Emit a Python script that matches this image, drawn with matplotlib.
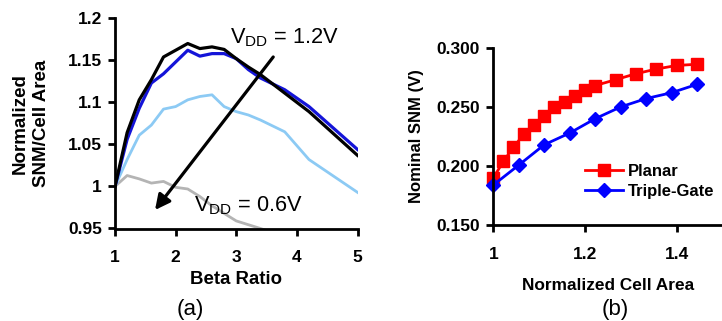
import matplotlib
matplotlib.use("Agg")
import matplotlib.pyplot as plt
from matplotlib.ticker import FixedLocator, FixedFormatter

plt.rcParams['font.family'] = ['Liberation Sans', 'DejaVu Sans']

# (a) normalized SNM per cell area vs. beta ratio, for several supply voltages
beta = [1.0, 1.2, 1.4, 1.6, 1.8, 2.0, 2.2, 2.4, 2.6, 2.8, 3.0, 3.2, 3.4, 3.8, 4.2, 5.0]
snm_12 = [1.000, 1.064, 1.103, 1.127, 1.154, 1.162, 1.170, 1.164, 1.166, 1.163,
          1.152, 1.142, 1.133, 1.111, 1.089, 1.037]
snm_10 = [1.000, 1.056, 1.093, 1.123, 1.134, 1.148, 1.162, 1.155, 1.158, 1.158,
          1.152, 1.139, 1.129, 1.115, 1.095, 1.044]
snm_08 = [1.000, 1.032, 1.061, 1.073, 1.092, 1.095, 1.103, 1.107, 1.109, 1.095,
          1.089, 1.085, 1.079, 1.065, 1.032, 0.993]
beta_06 = [1.0, 1.2, 1.4, 1.6, 1.8, 2.0, 2.2, 2.4, 2.6, 2.8, 3.0, 3.4, 3.8, 4.2]
snm_06 = [1.000, 1.013, 1.009, 1.004, 1.006, 0.999, 0.997, 0.988, 0.977, 0.968,
          0.959, 0.950, 0.940, 0.930]

a_xticks = [1, 2, 3, 4, 5]
a_yticks = [0.95, 1.0, 1.05, 1.1, 1.15, 1.2]
a_ylabels = ["0.95", "1", "1.05", "1.1", "1.15", "1.2"]

# (b) nominal SNM vs. normalized cell area
area_planar = [1.0, 1.022, 1.044, 1.067, 1.089, 1.111, 1.133, 1.156, 1.178, 1.2,
               1.222, 1.267, 1.311, 1.356, 1.4, 1.444]
snm_planar = [0.190, 0.204, 0.216, 0.227, 0.235, 0.242, 0.250, 0.254, 0.259, 0.264,
              0.268, 0.273, 0.278, 0.282, 0.285, 0.286]
area_tg = [1.0, 1.056, 1.111, 1.167, 1.222, 1.278, 1.333, 1.389, 1.444]
snm_tg = [0.184, 0.201, 0.218, 0.228, 0.240, 0.250, 0.257, 0.262, 0.269]

b_xticks = [1.0, 1.2, 1.4]
b_xlabels = ["1", "1.2", "1.4"]
b_yticks = [0.150, 0.200, 0.250, 0.300]

W, H = 722, 321
fig = plt.figure(figsize=(W / 100, H / 100), dpi=100)


def fx(px):
    return px / W


def fy(py):
    return 1 - py / H


spine_w = 2.0
tick_fs = 12.5


def style_axes(ax):
    for s in ("top", "right"):
        ax.spines[s].set_visible(False)
    for s in ("left", "bottom"):
        ax.spines[s].set_linewidth(spine_w)
    ax.tick_params(direction="out", length=5, width=spine_w, labelsize=tick_fs)
    ax.tick_params(axis="x", pad=10.5)
    ax.tick_params(axis="y", pad=4.5)
    for lab in ax.get_xticklabels() + ax.get_yticklabels():
        lab.set_fontweight("bold")


# ---- panel (a)
axa = fig.add_axes([fx(115), fy(228.5), fx(357.5 - 115), (228.5 - 18.3) / H])
axa.plot(beta_06, snm_06, color="#b4b4b4", lw=2.0)
axa.plot(beta, snm_08, color="#8ccaf4", lw=2.0)
axa.plot(beta, snm_10, color="#1414d8", lw=2.3)
axa.plot(beta, snm_12, color="black", lw=2.3)
axa.set_xlim(1, 5)
axa.set_ylim(0.95, 1.2)
axa.xaxis.set_major_locator(FixedLocator(a_xticks))
axa.yaxis.set_major_locator(FixedLocator(a_yticks))
axa.yaxis.set_major_formatter(FixedFormatter(a_ylabels))
style_axes(axa)

fig.text(fx(236), fy(280), "Beta Ratio", fontsize=13.4, fontweight="bold",
         ha="center", va="center")
fig.text(fx(20.5), fy(123.5), "Normalized", fontsize=13.5, fontweight="bold",
         rotation=90, ha="center", va="center")
fig.text(fx(41.5), fy(123.5), "SNM/Cell Area", fontsize=13.5, fontweight="bold",
         rotation=90, ha="center", va="center")

axa.annotate("", xy=(1.66, 0.972), xytext=(3.61, 1.154),
             arrowprops=dict(arrowstyle="-|>,head_length=0.9,head_width=0.45",
                             color="black", lw=2.3, shrinkA=0, shrinkB=0))
axa.text(2.89, 1.177, r"V$_{\mathregular{DD}}$ = 1.2V", fontsize=15.7,
         va="center", ha="left")
axa.text(2.30, 0.977, r"V$_{\mathregular{DD}}$ = 0.6V", fontsize=15.7,
         va="center", ha="left")

fig.text(fx(190), fy(310), "(a)", fontsize=16, ha="center", va="center")

# ---- panel (b)
axb = fig.add_axes([fx(493.3), fy(225.3), fx(722.5 - 493.3), (225.3 - 47.7) / H])
axb.plot(area_planar, snm_planar, color="#ff0000", lw=2.0, marker="s", ms=9,
         label="Planar", clip_on=False)
axb.plot(area_tg, snm_tg, color="#0000ff", lw=2.0, marker="D", ms=7.5,
         label="Triple-Gate", clip_on=False)
axb.set_xlim(1, 1.5)
axb.set_ylim(0.15, 0.30)
axb.xaxis.set_major_locator(FixedLocator(b_xticks))
axb.xaxis.set_major_formatter(FixedFormatter(b_xlabels))
axb.yaxis.set_major_locator(FixedLocator(b_yticks))
axb.yaxis.set_major_formatter(FixedFormatter(["%.3f" % v for v in b_yticks]))
style_axes(axb)

fig.text(fx(608), fy(286), "Normalized Cell Area", fontsize=12.4,
         fontweight="bold", ha="center", va="center")
fig.text(fx(416), fy(136.5), "Nominal SNM (V)", fontsize=12, fontweight="bold",
         rotation=90, ha="center", va="center")

leg = axb.legend(loc="upper left", bbox_to_anchor=(fx(585), fy(164)),
                 bbox_transform=fig.transFigure, frameon=False,
                 prop=dict(size=12, weight="bold"), handlelength=2.3,
                 handletextpad=0.25, borderaxespad=0, borderpad=0,
                 labelspacing=0.3)

fig.text(fx(615), fy(310), "(b)", fontsize=16, ha="center", va="center")

fig.savefig("out.png", dpi=100)
